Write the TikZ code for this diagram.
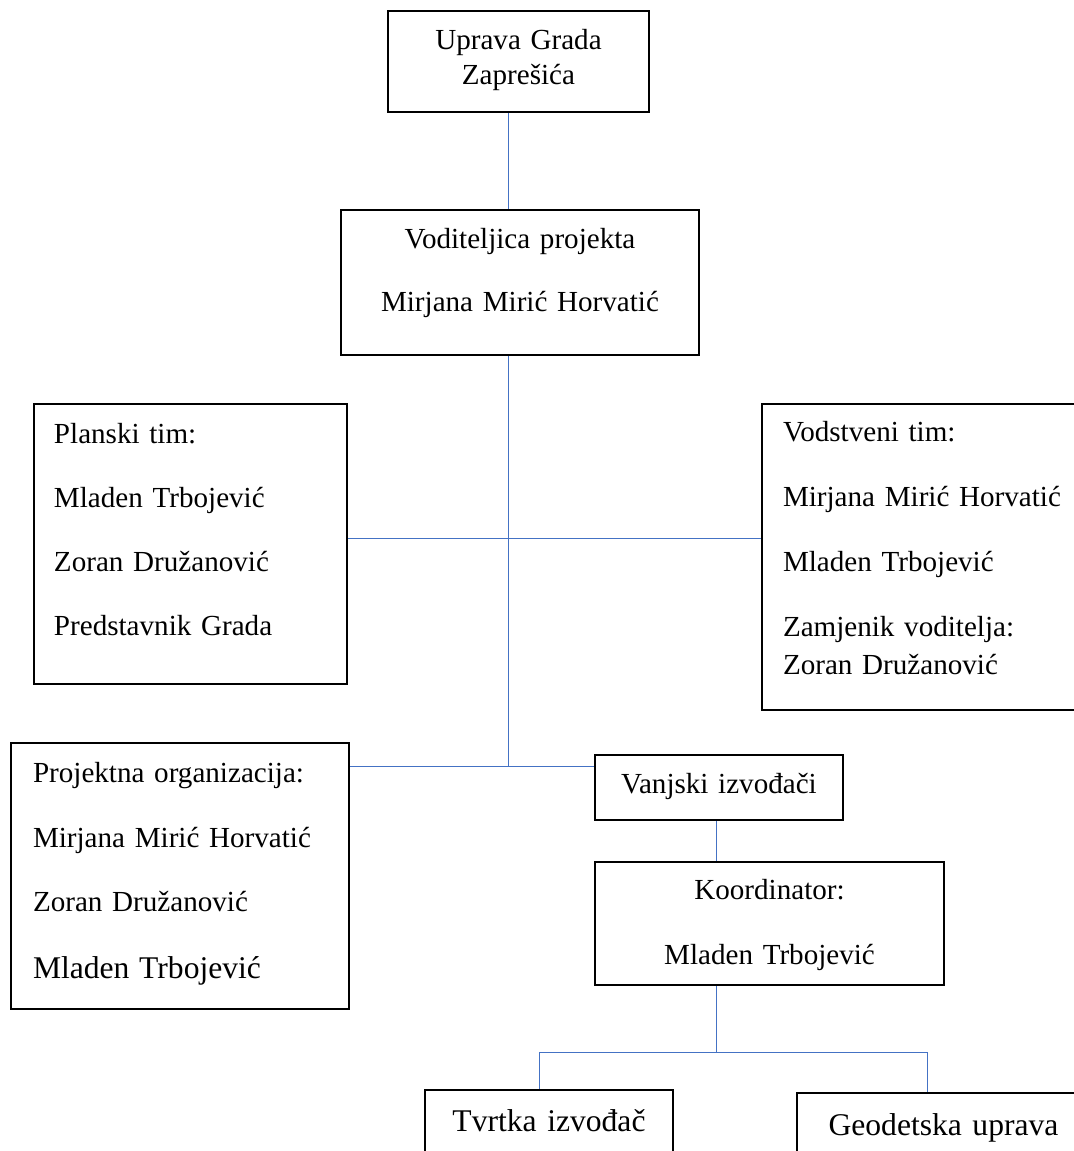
\documentclass[tikz,border=0pt]{standalone}
\usepackage{fontspec}
\setmainfont{Liberation Serif}
\definecolor{plava}{RGB}{68,114,196}

\begin{document}
\begin{tikzpicture}[x=0.5pt, y=-0.5pt, okvir/.style = {draw, line width=1pt, anchor=north west, inner ysep=0pt, font=\fontsize{14.55pt}{17pt}\selectfont}, lijevo/.style = {okvir, align=left}, sredina/.style = {okvir, align=center, inner xsep=0pt}, veza/.style = {draw=plava, line width=0.6pt},]
		\useasboundingbox (0,0) rectangle (1074,1151);
		\clip (0,0) rectangle (1074,1151);
		
		\node[sredina, text width=130.5pt, text height=19pt, text depth=31.5pt] (uprava) at (387,10) {Uprava Grada\\[0.5pt]Zaprešića};
		\node[sredina, text width=179pt, text height=19pt, text depth=53.5pt] (vodit) at (340,209) {Voditeljica projekta\\[14.5pt]Mirjana Mirić Horvatić};
		\node[lijevo, inner xsep=10pt, text width=136.5pt, text height=19.5pt, text depth=120.5pt] (planski) at (33,403) {Planski tim:\\[15pt]Mladen Trbojević\\[15pt]Zoran Družanović\\[15pt]Predstavnik Grada};
		\node[lijevo, inner xsep=10.5pt, text width=148.5pt, text height=18.5pt, text depth=134.5pt] (vodstveni) at (761,403) {Vodstveni tim:\\[15.5pt]Mirjana Mirić Horvatić\\[15.5pt]Mladen Trbojević\\[15.5pt]Zamjenik voditelja:\\[2pt]Zoran Družanović};
		\node[lijevo, inner xsep=11pt, text width=147pt, text height=19.5pt, text depth=113.5pt] (projektna) at (10,742) {Projektna organizacija:\\[15.5pt]Mirjana Mirić Horvatić\\[15pt]Zoran Družanović\\[16.5pt]{\fontsize{15.8pt}{18pt}\selectfont Mladen Trbojević}};
		\node[sredina, text width=124pt, text height=19pt, text depth=13.5pt] (vanjski) at (594,754) {Vanjski izvođači};
		\node[sredina, text width=174.5pt, text height=18.5pt, text depth=43pt] (koord) at (594,861) {Koordinator:\\[15.5pt]Mladen Trbojević};
		\node[sredina, text width=124pt, text height=20.5pt, text depth=29.5pt, font=\fontsize{15.8pt}{18pt}\selectfont] (tvrtka) at (424,1089) {Tvrtka izvođač};
		\node[sredina, text width=146.5pt, text height=21pt, text depth=29pt, font=\fontsize{15.8pt}{18pt}\selectfont] (geod) at (796,1092) {Geodetska uprava};
		
		\coordinate (hub) at (508.5,538.5);
		\coordinate (spoj) at (508.5,766.5);
		\coordinate (grana) at (716.5,1052.5);
		
		\draw[veza] (uprava.south -| hub) -- (vodit.north -| hub);
		\draw[veza] (vodit.south -| hub) -- (spoj);
		\draw[veza] (planski.east |- hub) -- (vodstveni.west |- hub);
		\draw[veza] (projektna.east |- spoj) -- (vanjski.west |- spoj);
		\draw[veza] (vanjski.south -| grana) -- (koord.north -| grana);
		\draw[veza] (koord.south -| grana) -- (grana);
		\draw[veza] ([xshift=-4.75pt]tvrtka.north) |- (grana) -| ([xshift=-8pt]geod.north);
	\end{tikzpicture}
\end{document}
